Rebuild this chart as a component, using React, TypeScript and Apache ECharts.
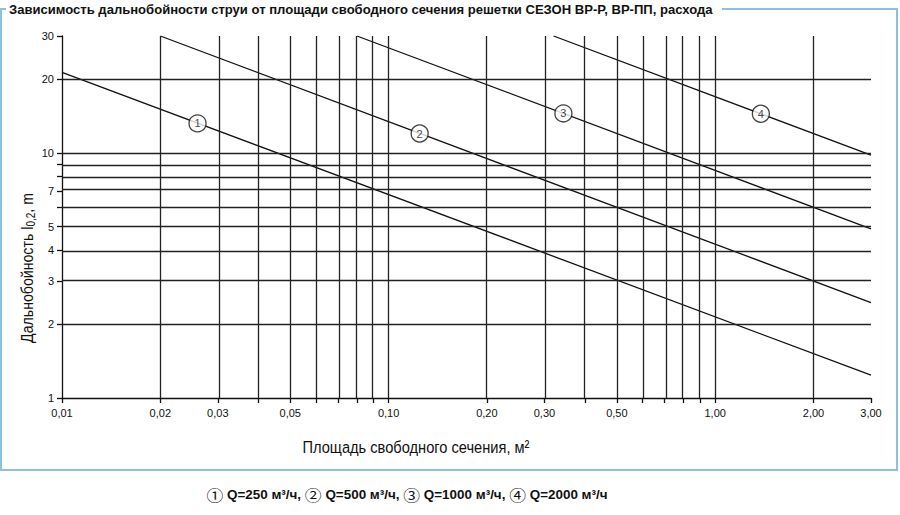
import React, { useEffect, useRef } from "react";
import * as echarts from "echarts";

const gridX = [0.02, 0.03, 0.04, 0.05, 0.06, 0.07, 0.08, 0.09, 0.1, 0.2, 0.3, 0.4, 0.5, 0.6, 0.7, 0.8, 0.9, 1, 2, 3];
const gridY = [2, 3, 4, 5, 6, 7, 8, 9, 10, 20, 30];
const xTickValues = [0.01, ...gridX];
const yTickValues = [1, ...gridY];
const xLabels = [0.01, 0.02, 0.03, 0.05, 0.1, 0.2, 0.3, 0.5, 1, 2, 3];
const yLabels = [1, 2, 3, 4, 5, 7, 10, 20, 30];

const line1X = [0.01, 3];
const line1Y = [21.3, 1.24];
const line2X = [0.02, 3];
const line2Y = [30, 2.45];
const line3X = [0.08, 3];
const line3Y = [30, 4.9];
const line4X = [0.32, 3];
const line4Y = [30, 9.8];

const markerX = [0.026, 0.1245, 0.343, 1.38];
const markerY = [13.2, 12.0, 14.5, 14.45];
const markerText = ["1", "2", "3", "4"];

const titleText =
  "Зависимость дальнобойности струи от площади свободного сечения решетки СЕЗОН ВР-Р, ВР-ПП, расхода";
const yNameMain = "Дальнобойность l";
const yNameSub = "0,2";
const yNameEnd = ", m";
const xName = "Площадь свободного сечения, м²";
const legendMarks = ["①", "②", "③", "④"];
const legendFlows = ["Q=250 м³/ч", "Q=500 м³/ч", "Q=1000 м³/ч", "Q=2000 м³/ч"];

const L = Math.log10;
const toPts = (xs: number[], ys: number[]) => xs.map((x, i) => [L(x), L(ys[i])]);

export default function App() {
  const ref = useRef<HTMLDivElement>(null);
  useEffect(() => {
    if (!ref.current) return;
    const chart = echarts.init(ref.current, null, { renderer: "svg" });
    const ctx = document.createElement("canvas").getContext("2d");
    const measure = (font: string, t: string) => {
      if (!ctx) return 0;
      ctx.font = font;
      return ctx.measureText(t).width;
    };
    const fit = (font: string, t: string, target: number) => {
      const w = measure(font, t);
      return w > 0 ? target / w : 1;
    };
    const titleFont = 'bold 13px "Liberation Sans", Arial, sans-serif';
    const titleScale = fit(titleFont, titleText, 705);

    const nameFont = '17px "Liberation Sans", Arial, sans-serif';
    const subFont = '12px "Liberation Sans", Arial, sans-serif';
    const yNameW =
      measure(nameFont, yNameMain) + measure(subFont, yNameSub) + measure(nameFont, yNameEnd);
    const yScale = yNameW > 0 ? 150 / yNameW : 1;
    const xScale = fit(nameFont, xName, 227);

    const legFont = 'bold 12px "Liberation Sans", Arial, sans-serif';
    const markFont = '15px "Noto Sans CJK SC", "DejaVu Sans", sans-serif';
    let legW = 0;
    legendMarks.forEach((m, i) => {
      legW += measure(markFont, m) + measure(legFont, " " + legendFlows[i] + (i < 3 ? ", " : ""));
    });
    const legScale = legW > 0 ? 401 / legW : 1;
    const legRich = legendMarks
      .map((m, i) => "{c|" + m + "}{t| " + legendFlows[i] + (i < 3 ? ", " : "") + "}")
      .join("");

    const lineStyle = { color: "#111", width: 1.3 };
    const mkLine = (xs: number[], ys: number[]) => ({
      type: "line",
      data: toPts(xs, ys),
      symbol: "none",
      lineStyle,
      silent: true,
      z: 3,
    });
    const option: any = {
      animation: false,
      backgroundColor: "#fff",
      grid: { left: 62, right: 29, top: 36, bottom: 117 },
      xAxis: {
        type: "value",
        min: L(0.01),
        max: L(3),
        axisLine: { show: true, onZero: false, lineStyle: { color: "#111", width: 1.3 } },
        axisTick: { show: true, length: 5, customValues: xTickValues.map(L), lineStyle: { color: "#111", width: 1.3 } },
        axisLabel: {
          customValues: xLabels.map(L),
          formatter: (v: number) => Math.pow(10, v).toFixed(2).replace(".", ","),
          color: "#111",
          fontSize: 11,
          fontFamily: '"Liberation Sans", Arial, sans-serif',
          margin: 9,
        },
        splitLine: { show: false },
      },
      yAxis: {
        type: "value",
        min: 0,
        max: L(30),
        axisLine: { show: true, onZero: false, lineStyle: { color: "#111", width: 1.3 } },
        axisTick: { show: true, length: 5, customValues: yTickValues.map(L), lineStyle: { color: "#111", width: 1.3 } },
        axisLabel: {
          customValues: yLabels.map(L),
          formatter: (v: number) => String(Math.round(Math.pow(10, v))),
          color: "#111",
          fontSize: 11,
          fontFamily: '"Liberation Sans", Arial, sans-serif',
          margin: 8,
        },
        splitLine: { show: false },
      },
      series: [
        {
          type: "line",
          data: [],
          silent: true,
          markLine: {
            silent: true,
            symbol: "none",
            label: { show: false },
            lineStyle: { color: "#222", width: 1.3, type: "solid" },
            data: [
              ...gridX.map((v) => ({ xAxis: L(v) })),
              ...gridY.map((v) => ({ yAxis: L(v) })),
            ],
          },
        },
        mkLine(line1X, line1Y),
        mkLine(line2X, line2Y),
        mkLine(line3X, line3Y),
        mkLine(line4X, line4Y),
        {
          type: "scatter",
          data: toPts(markerX, markerY),
          symbol: "circle",
          symbolSize: 17,
          z: 5,
          silent: true,
          itemStyle: { color: "#fff", borderColor: "#111", borderWidth: 1.3 },
          label: {
            show: true,
            position: "inside",
            formatter: (p: any) => markerText[p.dataIndex],
            color: "#111",
            fontSize: 11,
            fontFamily: '"Liberation Sans", Arial, sans-serif',
          },
        },
      ],
      graphic: [
        {
          type: "polyline",
          silent: true,
          shape: {
            points: [
              [722, 9],
              [897, 9],
              [897, 470],
              [1, 470],
              [1, 9],
              [6, 9],
            ],
          },
          style: { stroke: "#8cbfe0", lineWidth: 2, fill: "none" },
        },
        {
          type: "text",
          x: 9,
          y: 10,
          scaleX: titleScale,
          style: {
            text: titleText,
            font: titleFont,
            fill: "#111",
            textAlign: "left",
            textVerticalAlign: "middle",
          },
        },
        {
          type: "text",
          x: 27,
          y: 268,
          rotation: Math.PI / 2,
          scaleX: yScale,
          style: {
            text: "{m|" + yNameMain + "}{s|" + yNameSub + "}{m|" + yNameEnd + "}",
            fill: "#111",
            textAlign: "center",
            textVerticalAlign: "middle",
            rich: {
              m: { font: nameFont, fill: "#111", lineHeight: 20 },
              s: { font: subFont, fill: "#111", lineHeight: 20, padding: [8, 0, 0, 0] },
            },
          },
        },
        {
          type: "text",
          x: 416,
          y: 447,
          scaleX: xScale,
          style: {
            text: xName,
            font: nameFont,
            fill: "#111",
            textAlign: "center",
            textVerticalAlign: "middle",
          },
        },
        {
          type: "text",
          x: 407,
          y: 495,
          scaleX: legScale,
          style: {
            text: legRich,
            fill: "#111",
            textAlign: "center",
            textVerticalAlign: "middle",
            rich: {
              c: { font: markFont, fill: "#111", lineHeight: 18 },
              t: { font: legFont, fill: "#111", lineHeight: 18 },
            },
          },
        },
      ],
    };
    chart.setOption(option);
    return () => chart.dispose();
  }, []);
  return (
    <div
      ref={ref}
      style={{ position: "absolute", left: 0, top: 0, width: 900, height: 515 }}
    />
  );
}
